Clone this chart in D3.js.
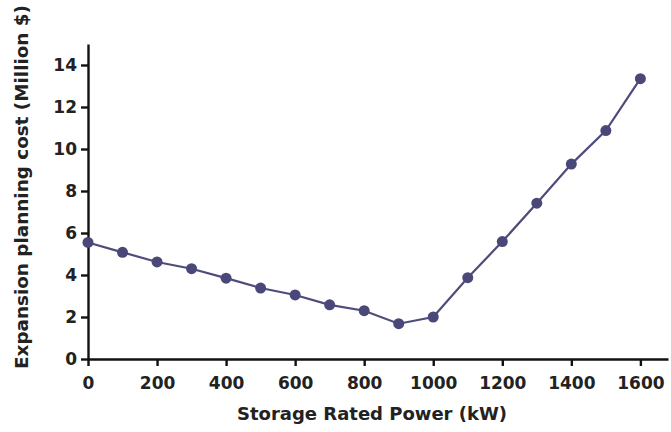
<!DOCTYPE html>
<html><head><meta charset="utf-8">
<script src="https://cdn.jsdelivr.net/npm/d3@7"></script>
<style>body{margin:0;background:#fff}svg{display:block}</style>
</head><body>
<svg id="c" width="671" height="432"></svg>
<script>
const power = [0,100,200,300,400,500,600,700,800,900,1000,1100,1200,1300,1400,1500,1600];
const cost = [5.55,5.08,4.62,4.30,3.85,3.38,3.05,2.58,2.30,1.68,2.00,3.87,5.59,7.42,9.28,10.88,13.35];
const xTicks = [0,200,400,600,800,1000,1200,1400,1600];
const yTicks = [0,2,4,6,8,10,12,14];
const xLabel = "Storage Rated Power (kW)";
const yLabel = "Expansion planning cost (Million $)";

const svg = d3.select("#c");
const x0 = 88, y0 = 359;
const x = d3.scaleLinear().domain([0,1680]).range([x0, 668]);
const y = d3.scaleLinear().domain([0,15]).range([y0, 44]);
const font = "'DejaVu Sans', Arial, sans-serif";

const gx = svg.append("g").attr("transform",`translate(0,${y0})`)
  .call(d3.axisBottom(x).tickValues(xTicks).tickFormat(d3.format("d")).tickSize(7).tickPadding(11).tickSizeOuter(0));
const gy = svg.append("g").attr("transform",`translate(${x0},0)`)
  .call(d3.axisLeft(y).tickValues(yTicks).tickFormat(d3.format("d")).tickSize(7).tickPadding(4).tickSizeOuter(0));
[gx,gy].forEach(g=>{
  g.select(".domain").attr("stroke","#111").attr("stroke-width",2.4);
  g.selectAll(".tick line").attr("stroke","#111").attr("stroke-width",2.4);
  g.selectAll(".tick text").attr("fill","#222").attr("font-family",font)
    .attr("font-weight","bold").attr("font-size",17);
});

svg.append("path").datum(power.map((p,i)=>[p,cost[i]]))
  .attr("fill","none").attr("stroke","#4f4c7c").attr("stroke-width",2.2)
  .attr("d", d3.line().x(d=>x(d[0])).y(d=>y(d[1])));
svg.selectAll("circle.pt").data(power.map((p,i)=>[p,cost[i]])).enter()
  .append("circle").attr("class","pt")
  .attr("cx",d=>x(d[0])).attr("cy",d=>y(d[1])).attr("r",5.5)
  .attr("fill","#4a4878");

svg.append("text").attr("x",372).attr("y",420).attr("text-anchor","middle")
  .attr("font-family",font).attr("font-weight","bold").attr("font-size",18)
  .attr("textLength",270).attr("lengthAdjust","spacingAndGlyphs")
  .attr("fill","#222").text(xLabel);
svg.append("text").attr("transform","translate(28,187) rotate(-90)").attr("text-anchor","middle")
  .attr("font-family",font).attr("font-weight","bold").attr("font-size",18)
  .attr("textLength",364).attr("lengthAdjust","spacingAndGlyphs")
  .attr("fill","#222").text(yLabel);
</script>
</body></html>
